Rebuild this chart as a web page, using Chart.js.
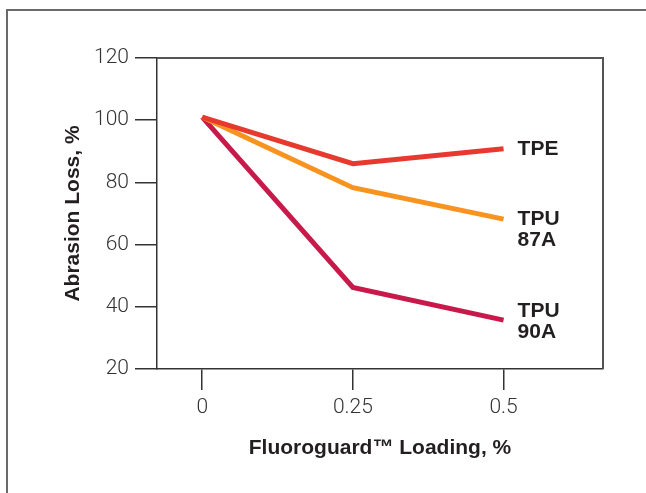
<!DOCTYPE html>
<html>
<head>
<meta charset="utf-8">
<script src="https://cdn.jsdelivr.net/npm/chart.js@4.4.1/dist/chart.umd.min.js"></script>
<style>
    html, body { margin: 0; padding: 0; background: #ffffff; overflow: hidden; }
    #wrap { position: relative; width: 646px; height: 493px; }
    #frame {
        position: absolute; left: 6px; top: 9px; width: 660px; height: 500px;
        border-top: 2px solid #6a6a6a; border-left: 2px solid #6a6a6a;
    }
    #chartAbrasion { position: absolute; left: 0; top: 0; }
</style>
</head>
<body>
<div id="wrap">
    <div id="frame"></div>
    <canvas id="chartAbrasion" width="646" height="493"></canvas>
</div>
<script>
const loadings = [0, 0.25, 0.5];
const xTickValues = [0, 0.25, 0.5];
const xTickLabels = ['0', '0.25', '0.5'];

const seriesNames = ['TPE', 'TPU 87A', 'TPU 90A'];
const tpeLoss = [101, 86, 90.8];
const tpu87Loss = [101, 78.3, 68.2];
const tpu90Loss = [101, 46.2, 35.7];
const endLabels = [['TPE'], ['TPU', '87A'], ['TPU', '90A']];

const lineColors = ['#e63a2e', '#f7931e', '#c81a4a'];
const labelShift = [0, 0, -9];

function toPoints(values) {
    return values.map((v, i) => ({ x: loadings[i], y: v }));
}

const endLabelPlugin = {
    id: 'endLabels',
    afterDatasetsDraw(chart) {
        const ctx = chart.ctx;
        ctx.save();
        ctx.font = 'bold 21px "Liberation Sans", Arial, sans-serif';
        ctx.fillStyle = '#231f20';
        ctx.textAlign = 'left';
        ctx.textBaseline = 'middle';
        chart.data.datasets.forEach((ds, i) => {
            const pts = chart.getDatasetMeta(i).data;
            const last = pts[pts.length - 1];
            endLabels[i].forEach((txt, j) => {
                ctx.fillText(txt, last.x + 14, last.y + labelShift[i] + j * 21);
            });
        });
        ctx.restore();
    }
};

const plotBoxPlugin = {
    id: 'plotBox',
    afterDraw(chart) {
        const a = chart.chartArea;
        const ctx = chart.ctx;
        ctx.save();
        ctx.strokeStyle = '#555555';
        ctx.lineWidth = 2;
        ctx.beginPath();
        ctx.moveTo(a.left, a.top);
        ctx.lineTo(a.right, a.top);
        ctx.lineTo(a.right, a.bottom);
        ctx.stroke();
        ctx.restore();
    }
};

const tickFont = { family: 'Roboto, "Liberation Sans", Arial, sans-serif', size: 21, weight: 300 };
const titleFont = { family: '"Liberation Sans", Arial, sans-serif', size: 21, weight: 'bold' };

new Chart(document.getElementById('chartAbrasion'), {
    type: 'line',
    data: {
        datasets: [
            { label: seriesNames[0], data: toPoints(tpeLoss), borderColor: lineColors[0] },
            { label: seriesNames[1], data: toPoints(tpu87Loss), borderColor: lineColors[1] },
            { label: seriesNames[2], data: toPoints(tpu90Loss), borderColor: lineColors[2] }
        ]
    },
    options: {
        responsive: false,
        animation: false,
        devicePixelRatio: 1,
        layout: { padding: { left: 0, top: 58, right: 43, bottom: 30 } },
        elements: {
            line: { borderWidth: 5, tension: 0, fill: false, borderCapStyle: 'butt', borderJoinStyle: 'miter' },
            point: { radius: 0, hoverRadius: 0 }
        },
        plugins: {
            legend: { display: false },
            tooltip: { enabled: false }
        },
        scales: {
            x: {
                type: 'linear',
                min: -0.075,
                max: 0.665,
                afterBuildTicks: scale => { scale.ticks = xTickValues.map(v => ({ value: v })); },
                afterFit: scale => { scale.height = 94; },
                grid: { drawOnChartArea: false, drawTicks: true, tickLength: 21, color: '#333333', lineWidth: 1.5 },
                border: { display: true, color: '#333333', width: 1.5 },
                ticks: {
                    color: '#333333',
                    font: tickFont,
                    padding: 5,
                    maxRotation: 0,
                    callback: v => xTickLabels[xTickValues.indexOf(v)]
                },
                title: {
                    display: true,
                    text: 'Fluoroguard\u2122 Loading, %',
                    color: '#231f20',
                    font: titleFont,
                    padding: { top: 0, bottom: 2 }
                }
            },
            y: {
                min: 20,
                max: 120,
                afterFit: scale => { scale.width = 157; },
                grid: { drawOnChartArea: false, drawTicks: true, tickLength: 22, color: '#333333', lineWidth: 1.5 },
                border: { display: true, color: '#333333', width: 1.5 },
                ticks: {
                    stepSize: 20,
                    color: '#333333',
                    font: tickFont,
                    padding: 6
                },
                title: {
                    display: true,
                    text: 'Abrasion Loss, %',
                    color: '#231f20',
                    font: titleFont,
                    padding: { top: 61, bottom: 0 }
                }
            }
        }
    },
    plugins: [endLabelPlugin, plotBoxPlugin]
});
</script>
</body>
</html>
